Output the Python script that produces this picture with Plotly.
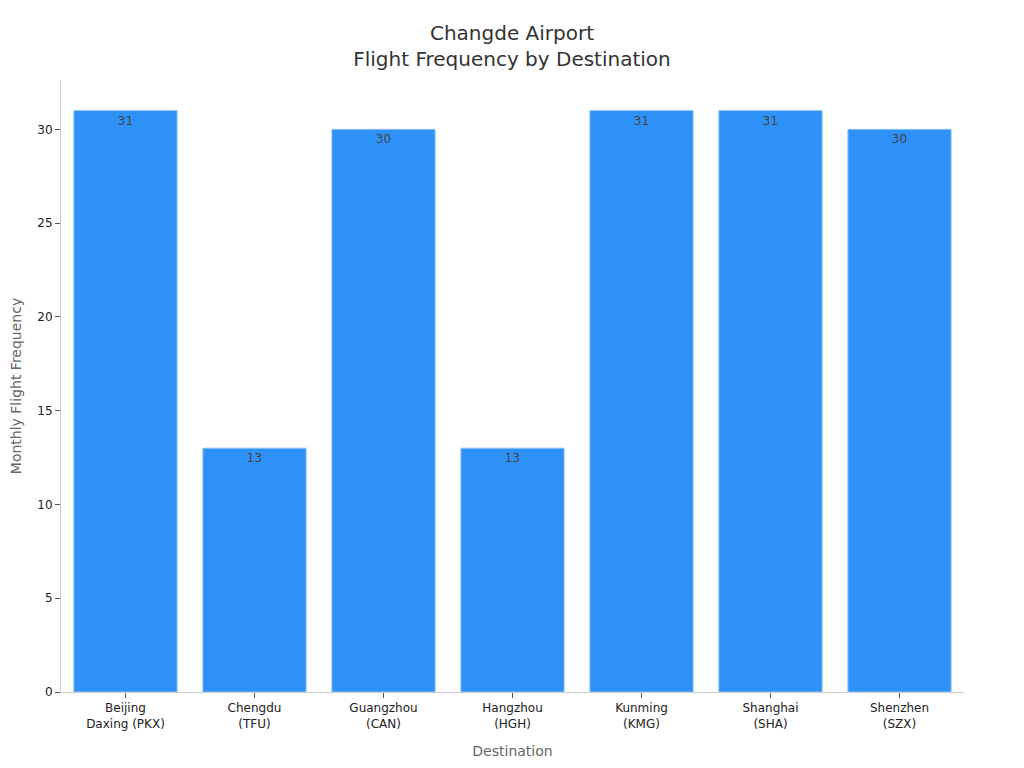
import plotly.graph_objects as go

# Chart data
destinations = [
    "Beijing<br>Daxing (PKX)",
    "Chengdu<br>(TFU)",
    "Guangzhou<br>(CAN)",
    "Hangzhou<br>(HGH)",
    "Kunming<br>(KMG)",
    "Shanghai<br>(SHA)",
    "Shenzhen<br>(SZX)",
]
monthly_flights = [31, 13, 30, 13, 31, 31, 30]

fig = go.Figure()
fig.add_trace(go.Bar(
    x=destinations,
    y=monthly_flights,
    text=monthly_flights,
    textposition="inside",
    insidetextanchor="end",
    textfont=dict(size=12, color="#444444"),
    marker=dict(color="#2E91F7", line=dict(color="#8EC3F5", width=1)),
))

fig.update_layout(
    title=dict(
        text="Changde Airport<br>Flight Frequency by Destination",
        x=0.5, xanchor="center", y=0.958, yanchor="top",
        font=dict(size=20, color="#333333"),
    ),
    font=dict(family="DejaVu Sans", size=12, color="#222222"),
    plot_bgcolor="white",
    paper_bgcolor="white",
    width=1008,
    height=752,
    margin=dict(l=53, r=52, t=72, b=68),
    bargap=0.2,
    showlegend=False,
    xaxis=dict(
        title=dict(text="Destination", font=dict(size=14, color="#666666"), standoff=16),
        showline=True, linecolor="#CCCCCC", ticks="outside", tickcolor="#555555",
        ticklen=5, showgrid=False, automargin=False,
    ),
    yaxis=dict(
        title=dict(text="Monthly Flight Frequency", font=dict(size=14, color="#666666"), standoff=18),
        showline=True, linecolor="#CCCCCC", ticks="outside", tickcolor="#555555",
        ticklen=5, showgrid=False, zeroline=False, dtick=5, automargin=False,
    ),
)

fig.write_html("out.html")
